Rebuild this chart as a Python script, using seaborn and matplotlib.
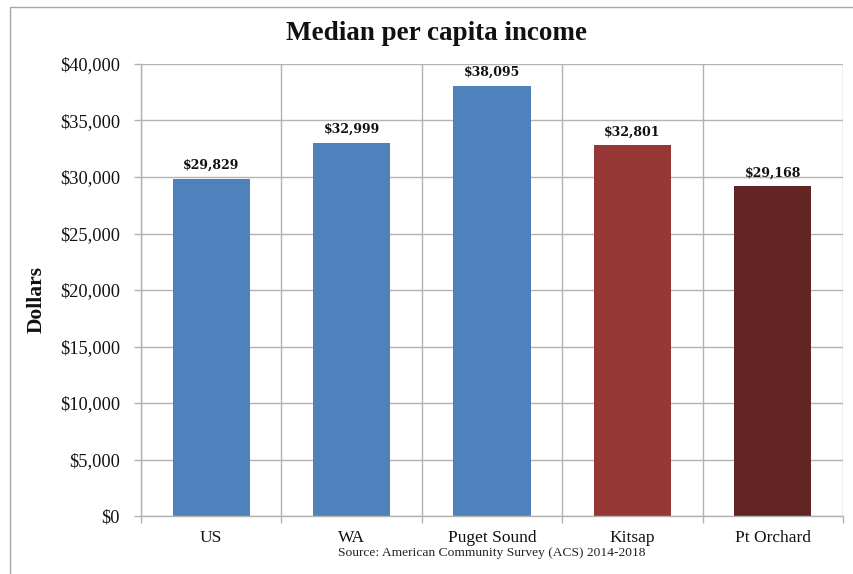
import matplotlib
matplotlib.use("Agg")
import matplotlib.pyplot as plt
import seaborn as sns
import pandas as pd
from matplotlib.ticker import FuncFormatter, FixedLocator
from matplotlib.patches import Rectangle

categories = ["US", "WA", "Puget Sound", "Kitsap", "Pt Orchard"]
values = [29829, 32999, 38095, 32801, 29168]
colors = ["#4F81BD", "#4F81BD", "#4F81BD", "#953735", "#632523"]

sns.set_theme(style="white")
plt.rcParams["font.family"] = ["Liberation Serif", "DejaVu Serif"]

df = pd.DataFrame({"cat": categories, "val": values})

fig = plt.figure(figsize=(8.54, 5.74), dpi=100)
ax = fig.add_axes([141/854, 1-516/574, (843-141)/854, (516-64)/574])

sns.barplot(data=df, x="cat", y="val", hue="cat", palette=colors, width=0.55,
            legend=False, ax=ax, saturation=1, edgecolor="none")

ax.set_ylim(0, 40000)
ax.set_xlim(-0.5, len(categories) - 0.5)
ax.yaxis.set_major_locator(FixedLocator(range(0, 40001, 5000)))
ax.yaxis.set_major_formatter(FuncFormatter(lambda v, p: f"${int(v):,}"))
ax.set_xticks(range(len(categories)))
ax.set_xticklabels(categories)
ax.set_xticks([i - 0.5 for i in range(len(categories) + 1)], minor=True)

grid_c = "#b3b3b3"
ax.grid(axis="y", which="major", color=grid_c, linewidth=1)
ax.grid(axis="x", which="minor", color=grid_c, linewidth=1)
ax.grid(axis="x", which="major", visible=False)
ax.set_axisbelow(True)

for s in ["top", "right"]:
    ax.spines[s].set_visible(False)
for s in ["left", "bottom"]:
    ax.spines[s].set_color(grid_c)
    ax.spines[s].set_linewidth(1)

ax.tick_params(axis="y", which="major", length=5, color=grid_c, width=1,
               direction="out", left=True, labelsize=13.2, pad=10, labelcolor="#111111")
ax.tick_params(axis="x", which="major", length=0, labelsize=12.5, pad=10, labelcolor="#111111")
ax.tick_params(axis="x", which="minor", length=5, color=grid_c, width=1,
               direction="out", bottom=True)

ax.set_xlabel("")
ax.set_ylabel("")

for i, v in enumerate(values):
    ax.annotate(f"${v:,}", (i, v), xytext=(0, 5), textcoords="offset points",
                ha="center", va="bottom", fontsize=9.0, fontweight="bold", color="#111111",
                family=["DejaVu Serif"])

fig.text(437/854, 1-34/574, "Median per capita income", ha="center", va="center",
         fontsize=19.5, fontweight="bold", color="#111111")
fig.text(37/854, 1-299/574, "Dollars", ha="center", va="center", rotation=90,
         fontsize=15.5, fontweight="bold", color="#111111")
fig.text(492/854, 1-553/574, "Source: American Community Survey (ACS) 2014-2018",
         ha="center", va="center", fontsize=9.7, color="#222222")

fig.patches.append(Rectangle((10/854, -0.1), 1.2, 1.1 - 7/574, transform=fig.transFigure,
                             fill=False, edgecolor="#a6a6a6", linewidth=1))

fig.savefig("out.png", dpi=100)
